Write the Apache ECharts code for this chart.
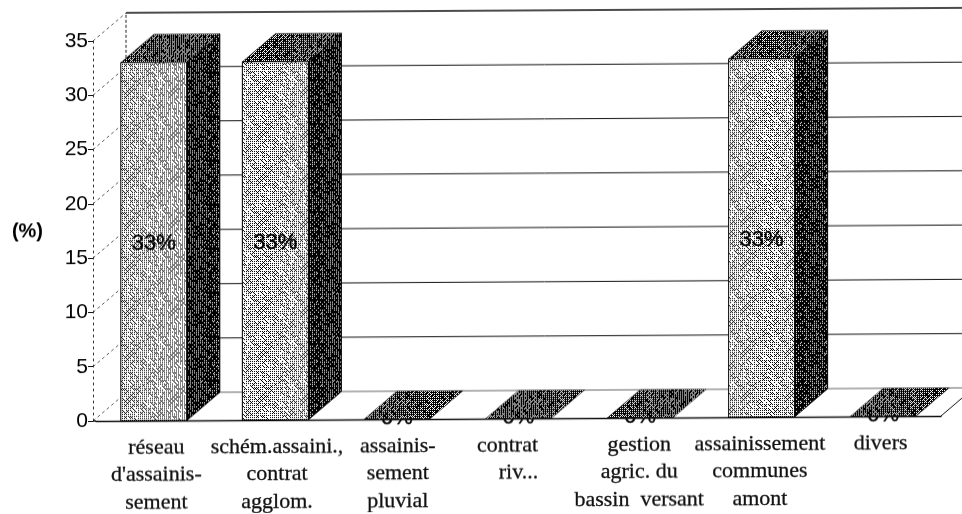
<!DOCTYPE html>
<html>
<head>
<meta charset="utf-8">
<style>
  html, body { margin: 0; padding: 0; background: #fff; overflow: hidden; }
  /* the scan runs slightly uphill to the right */
  #chart { width: 962px; height: 514px; transform: skewY(-0.34deg); transform-origin: 96px 421px; }
</style>
<script src="https://cdn.jsdelivr.net/npm/echarts@6/dist/echarts.min.js"></script>
</head>
<body>
<div id="chart"></div>
<script>
const categories = [
  "réseau\nd'assainis-\nsement",
  'schém.assaini.,\ncontrat\nagglom.',
  'assainis-\nsement\npluvial',
  'contrat    \nriv...',
  'gestion\nagric. du\nbassin  versant',
  'assainissement\ncommunes\namont',
  'divers'
]
const percentages = [33, 33, 0, 0, 0, 33, 0]
const yTicks = [0, 5, 10, 15, 20, 25, 30, 35]

const depthX = 33
const depthY = 28

// ordered dither tile with some scatter, gives the photocopied grey of the bars
const bayer = [
  [0, 8, 2, 10],
  [12, 4, 14, 6],
  [3, 11, 1, 9],
  [15, 7, 13, 5]
]
const ditherTile = (density) => {
  const size = 44
  const tile = document.createElement('canvas')
  tile.width = size
  tile.height = size
  const ctx = tile.getContext('2d')
  ctx.fillStyle = '#fff'
  ctx.fillRect(0, 0, size, size)
  ctx.fillStyle = '#000'
  for (let y = 0; y < size; y++) {
    for (let x = 0; x < size; x++) {
      const scatter = ((x * x * 13 + y * y * 7 + x * y * 3) % 11) * 0.5 - 2.5
      if ((bayer[y % 4][x % 4] + scatter) / 16 < density) ctx.fillRect(x, y, 1, 1)
    }
  }
  return { image: tile, repeat: 'repeat' }
}
const frontFill = ditherTile(0.27)
const sideFill = ditherTile(0.84)
const topFill = ditherTile(0.7)

const renderWall = (params, api) => {
  const v = api.value(0)
  const halfStep = api.size([1, 0])[0] / 2
  const p = api.coord([0, v])
  const left = p[0] - halfStep - 3
  const right = api.coord([categories.length - 1, v])[0] + halfStep
  const children = [
    {
      type: 'line',
      shape: { x1: left, y1: p[1], x2: left + depthX, y2: p[1] - depthY },
      style: { stroke: '#333', lineWidth: 0.8, lineDash: [3, 3] }
    },
    {
      type: 'line',
      shape: { x1: left + depthX, y1: p[1] - depthY, x2: right + depthX, y2: p[1] - depthY },
      style: { stroke: v === 0 ? '#666' : '#111', lineWidth: v === 35 ? 1.4 : 1 }
    }
  ]
  if (v === 0) {
    const top = api.coord([0, 35])
    children.push(
      {
        type: 'line',
        shape: { x1: left + depthX, y1: p[1] - depthY, x2: left + depthX, y2: top[1] - depthY },
        style: { stroke: '#222', lineWidth: 1, lineDash: [3, 2] }
      },
      {
        type: 'line',
        shape: { x1: right, y1: p[1], x2: right + depthX, y2: p[1] - depthY },
        style: { stroke: '#111', lineWidth: 1 }
      },
      {
        type: 'line',
        shape: { x1: left, y1: p[1], x2: left + 3, y2: p[1] },
        style: { stroke: '#111', lineWidth: 1.4 }
      }
    )
  }
  return { type: 'group', children }
}

const renderBar = (params, api) => {
  const i = api.value(0)
  const v = api.value(1)
  const base = api.coord([i, 0])
  const tip = api.coord([i, v])
  const width = 66
  // bars drift a little against the ticks in the original
  const x0 = base[0] - width / 2 + (i - 3) * 0.85
  const x1 = x0 + width
  const outline = { stroke: '#000', lineWidth: 1 }
  const label = {
    type: 'text',
    style: {
      x: x0 + width / 2,
      y: v > 0 ? api.coord([i, v / 2])[1] + 2 : base[1] - 1.5,
      text: v + '%',
      fill: '#000',
      stroke: '#000',
      lineWidth: 0.4,
      font: '22px "Liberation Sans", Arial, sans-serif',
      align: 'center',
      verticalAlign: 'middle'
    }
  }
  const topFace = {
    type: 'polygon',
    shape: { points: [[x0, tip[1]], [x1, tip[1]], [x1 + depthX, tip[1] - depthY], [x0 + depthX, tip[1] - depthY]] },
    style: { fill: topFill, stroke: v > 0 ? '#000' : '#333', lineWidth: 0.6 }
  }
  if (v === 0) return { type: 'group', children: [label, topFace] }
  return {
    type: 'group',
    children: [
      {
        type: 'polygon',
        shape: { points: [[x1, base[1]], [x1, tip[1]], [x1 + depthX, tip[1] - depthY], [x1 + depthX, base[1] - depthY]] },
        style: { fill: sideFill, ...outline }
      },
      topFace,
      {
        type: 'rect',
        shape: { x: x0, y: tip[1], width, height: base[1] - tip[1] },
        style: { fill: frontFill, ...outline }
      },
      label
    ]
  }
}

const chart = echarts.init(document.getElementById('chart'))
chart.setOption({
  animation: false,
  backgroundColor: '#fff',
  grid: { left: 96, right: 21, top: 41, bottom: 93, outerBoundsMode: 'none' },
  xAxis: {
    type: 'category',
    data: categories,
    axisLine: { lineStyle: { color: '#111', width: 1.4 } },
    axisTick: { length: 6, lineStyle: { color: '#111', width: 1.2 } },
    axisLabel: {
      interval: 0,
      margin: 13,
      color: '#111',
      textBorderColor: '#111',
      textBorderWidth: 0.3,
      fontFamily: '"Liberation Serif", serif',
      fontSize: 22,
      lineHeight: 27.5
    }
  },
  yAxis: {
    type: 'value',
    min: 0,
    max: 35,
    interval: 5,
    offset: 3,
    name: '(%)',
    nameLocation: 'middle',
    nameRotate: 0,
    nameGap: 50,
    nameTextStyle: {
      color: '#000',
      fontFamily: '"Liberation Sans", Arial, sans-serif',
      fontWeight: 'bold',
      fontSize: 20
    },
    axisLine: { show: true, lineStyle: { color: '#333', width: 1, type: [2, 4] } },
    axisTick: { show: true, length: 5, lineStyle: { color: '#111', width: 1 } },
    axisLabel: {
      margin: 5,
      color: '#000',
      fontFamily: '"Liberation Sans", Arial, sans-serif',
      fontSize: 21
    },
    splitLine: { show: false }
  },
  series: [
    {
      type: 'custom',
      z: 1,
      silent: true,
      encode: { y: 0 },
      renderItem: renderWall,
      data: yTicks.map(v => [v])
    },
    {
      type: 'custom',
      z: 3,
      silent: true,
      encode: { x: 0, y: 1 },
      renderItem: renderBar,
      data: percentages.map((v, i) => [i, v])
    }
  ]
})
</script>
</body>
</html>
